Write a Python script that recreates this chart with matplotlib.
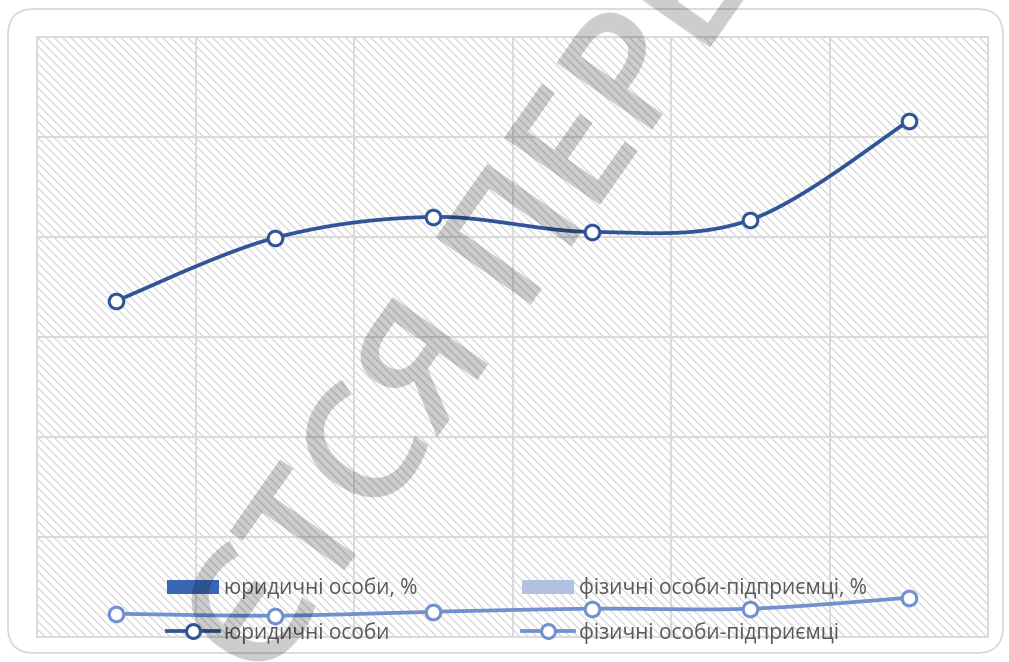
import numpy as np
import matplotlib
matplotlib.use('Agg')
import matplotlib.pyplot as plt
from matplotlib.patches import FancyBboxPatch, Patch, Rectangle
from matplotlib.lines import Line2D
from matplotlib.transforms import IdentityTransform

# ---- data ----
categories = [1, 2, 3, 4, 5, 6]
legal_entities = [33.6, 39.9, 42.0, 40.5, 41.7, 51.6]
individual_entrepreneurs = [2.3, 2.1, 2.5, 2.8, 2.8, 3.9]
legend_labels = ['юридичні особи, %', 'фізичні особи-підприємці, %',
                 'юридичні особи', 'фізичні особи-підприємці']
watermark = 'ЄТСЯ ПЕРЕ'

# ---- style ----
c_dark = '#2f5597'
c_light = '#7190cf'
c_bar_dark = '#3a66b6'
c_bar_light = '#b2c1e2'
grid_c = '#d9d9d9'
text_c = '#595959'

plt.rcParams['font.family'] = ['Open Sans', 'DejaVu Sans']
plt.rcParams['hatch.linewidth'] = 0.9


def smooth(xs, ys, n=40):
    pts = np.column_stack([xs, ys]).astype(float)
    P = np.vstack([pts[0], pts, pts[-1]])
    out = []
    t = np.linspace(0, 1, n)[:, None]
    for i in range(len(pts) - 1):
        p0, p1, p2, p3 = P[i], P[i + 1], P[i + 2], P[i + 3]
        c1 = p1 + (p2 - p0) / 6.0
        c2 = p2 - (p3 - p1) / 6.0
        seg = ((1 - t) ** 3) * p1 + 3 * ((1 - t) ** 2) * t * c1 + 3 * (1 - t) * t ** 2 * c2 + t ** 3 * p2
        out.append(seg if i == 0 else seg[1:])
    seg = np.vstack(out)
    return seg[:, 0], seg[:, 1]


W, H = 1009, 662
fig = plt.figure(figsize=(W / 100, H / 100), dpi=100)
fig.patch.set_facecolor('white')

# rounded outer border
border = FancyBboxPatch((8, 9), 995, 644, boxstyle='round,pad=0,rounding_size=26',
                        transform=IdentityTransform(), facecolor='white',
                        edgecolor='#d9d9d9', linewidth=1.3, zorder=-5)
fig.patches.append(border)

ax = fig.add_axes([37 / W, 1 - 636.7 / H, (988 - 37) / W, (636.7 - 37) / H])
ax.patch.set_alpha(0)
ax.add_patch(Rectangle((0, 0), 1, 1, transform=ax.transAxes, facecolor='white',
                       edgecolor='#d6d6d6', hatch='\\\\\\\\', linewidth=0, zorder=0.1))

x = np.arange(len(categories))
ax.set_xlim(-0.5, len(categories) - 0.5)
ax.set_ylim(0, 60)
ax.set_xticks(np.arange(-0.5, len(categories), 1))
ax.set_yticks(np.arange(0, 61, 10))
ax.set_xticklabels([])
ax.set_yticklabels([])
ax.tick_params(length=0)
ax.set_axisbelow(True)
ax.grid(True, color=grid_c, linewidth=1.4)
for s in ax.spines.values():
    s.set_color(grid_c)
    s.set_linewidth(1.4)

for ys, col in [(legal_entities, c_dark), (individual_entrepreneurs, c_light)]:
    sx, sy = smooth(x, ys)
    ax.plot(sx, sy, color=col, linewidth=2.7, solid_capstyle='round', zorder=3, clip_on=False)
    ax.plot(x, ys, linestyle='none', marker='o', markersize=10.5, markerfacecolor='white',
            markeredgecolor=col, markeredgewidth=2.2, zorder=4, clip_on=False)

handles = [
    Patch(facecolor=c_bar_dark, edgecolor='none'),
    Line2D([], [], color=c_dark, linewidth=2.7, marker='o', markersize=10,
           markerfacecolor='white', markeredgecolor=c_dark, markeredgewidth=2.2),
    Patch(facecolor=c_bar_light, edgecolor='none'),
    Line2D([], [], color=c_light, linewidth=2.7, marker='o', markersize=10,
           markerfacecolor='white', markeredgecolor=c_light, markeredgewidth=2.2),
]
labels = [legend_labels[0], legend_labels[2], legend_labels[1], legend_labels[3]]
leg = ax.legend(handles, labels, ncol=2, loc='lower center', bbox_to_anchor=(0.5047, -0.043),
                frameon=False, fontsize=15, labelcolor=text_c, handlelength=2.5,
                handletextpad=0.25, columnspacing=5.0, labelspacing=1.08, numpoints=1)
leg.set_zorder(5)

fig.text(474 / W, 1 - 312 / H, watermark, rotation=55, rotation_mode='anchor',
         ha='center', va='center', fontsize=118, color='black', alpha=0.2,
         weight='semibold', zorder=10)

fig.savefig('out.png', dpi=100, facecolor='white')
